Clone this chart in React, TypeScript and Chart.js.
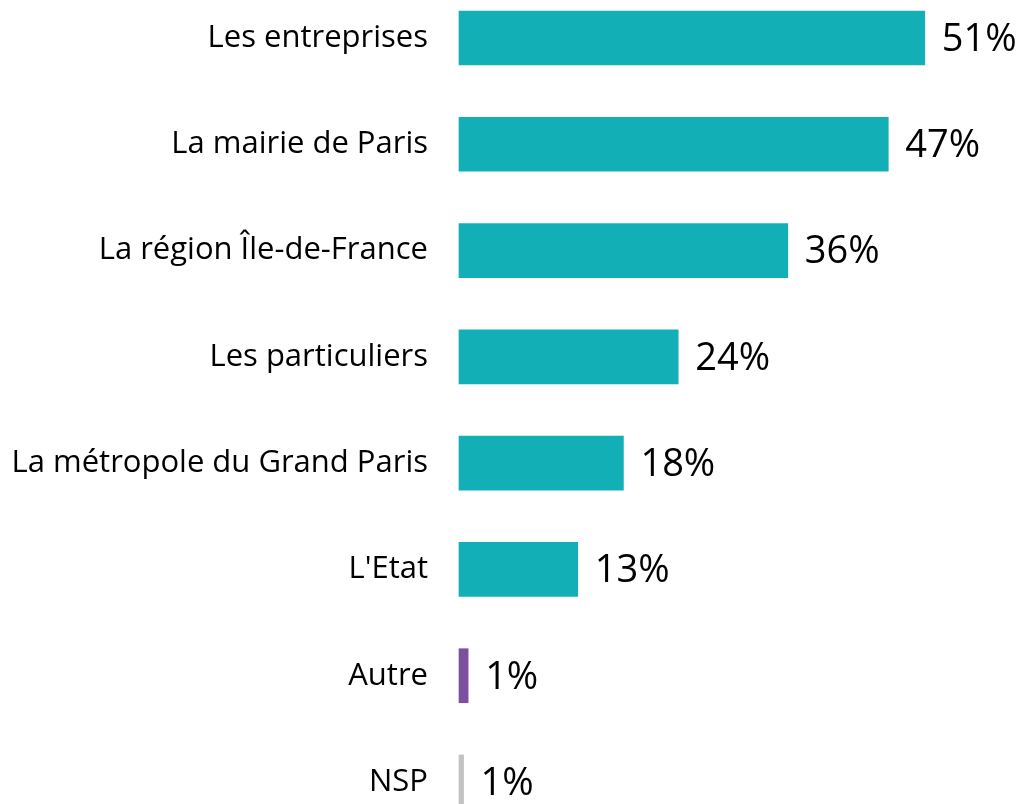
import React, { useEffect, useRef } from "react";
import { Chart, registerables } from "chart.js";

Chart.register(...registerables);

const categories = [
  "Les entreprises",
  "La mairie de Paris",
  "La région Île-de-France",
  "Les particuliers",
  "La métropole du Grand Paris",
  "L'Etat",
  "Autre",
  "NSP",
];
const values = [51, 47, 36, 24, 18, 13, 1, 0.5];
const valueLabels = ["51%", "47%", "36%", "24%", "18%", "13%", "1%", "1%"];
const barColors = [
  "#13AFB7",
  "#13AFB7",
  "#13AFB7",
  "#13AFB7",
  "#13AFB7",
  "#13AFB7",
  "#7D4F9F",
  "#C2C2C2",
];

const FONT = "'Open Sans', sans-serif";

const valueLabelPlugin = {
  id: "valueLabels",
  afterDatasetsDraw(chart: any) {
    const ctx = chart.ctx;
    const meta = chart.getDatasetMeta(0);
    ctx.save();
    ctx.font = `38px ${FONT}`;
    ctx.fillStyle = "#000000";
    ctx.textAlign = "left";
    ctx.textBaseline = "middle";
    meta.data.forEach((bar: any, i: number) => {
      ctx.fillText(valueLabels[i], bar.x + 17, bar.y + 2);
    });
    ctx.restore();
  },
};

export default function App() {
  const canvasRef = useRef<HTMLCanvasElement | null>(null);

  useEffect(() => {
    if (!canvasRef.current) return;
    const chart = new Chart(canvasRef.current, {
      type: "bar",
      data: {
        labels: categories,
        datasets: [
          {
            data: values,
            backgroundColor: barColors,
            borderWidth: 0,
            barThickness: 54,
            clip: false as any,
          },
        ],
      },
      options: {
        indexAxis: "y",
        animation: false,
        responsive: true,
        maintainAspectRatio: false,
        layout: { padding: { top: 38, bottom: 22, left: 0, right: 18 } },
        plugins: {
          legend: { display: false },
          tooltip: { enabled: false },
        },
        scales: {
          x: {
            display: false,
            min: 0,
            max: 60,
          },
          y: {
            offset: false,
            grid: { display: false },
            border: { display: false },
            ticks: {
              color: "#000000",
              padding: 23,
              font: { family: FONT, size: 31 },
            },
            afterFit(scale: any) {
              scale.width = 459;
              scale.paddingTop = 0;
              scale.paddingBottom = 0;
            },
          },
        },
      },
      plugins: [valueLabelPlugin],
    });
    return () => chart.destroy();
  }, []);

  return (
    <div
      style={{
        position: "fixed",
        left: 0,
        top: 0,
        width: 1025,
        height: 804,
        background: "#ffffff",
      }}
    >
      <canvas ref={canvasRef} />
    </div>
  );
}
